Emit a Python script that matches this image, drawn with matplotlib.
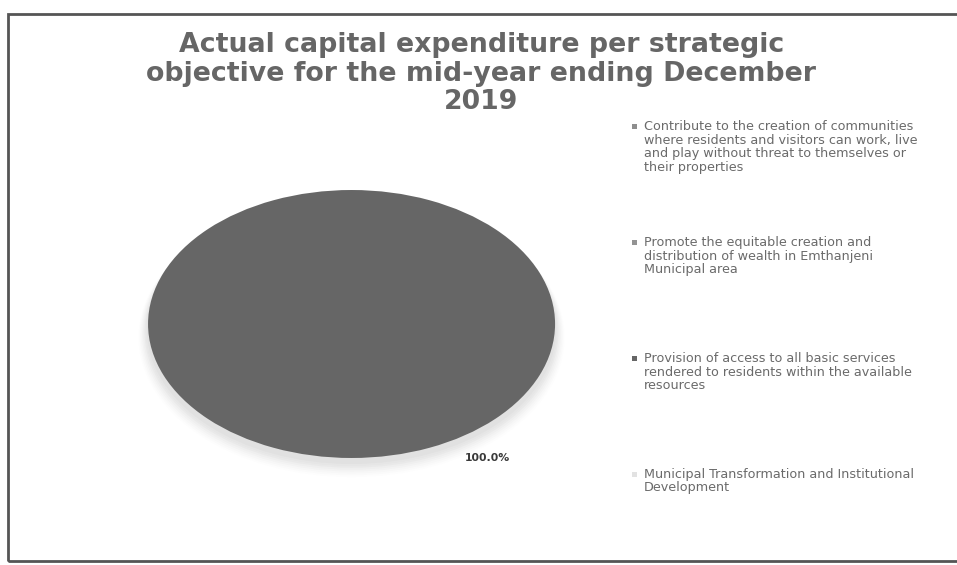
import matplotlib
matplotlib.use("Agg")
from matplotlib import pyplot as plt
from matplotlib.patches import Ellipse, Rectangle
import numpy as np

plt.rcParams['font.family'] = ['DejaVu Sans']

title = "Actual capital expenditure per strategic\nobjective for the mid-year ending December\n2019"

objectives = [
    "Contribute to the creation of communities\nwhere residents and visitors can work, live\nand play without threat to themselves or\ntheir properties",
    "Promote the equitable creation and\ndistribution of wealth in Emthanjeni\nMunicipal area",
    "Provision of access to all basic services\nrendered to residents within the available\nresources",
    "Municipal Transformation and Institutional\nDevelopment",
]
expenditure_pct = [0.0, 0.0, 100.0, 0.0]
colours = ['#8e8e8e', '#939393', '#666666', '#e2e2e2']

fig = plt.figure(figsize=(9.57, 5.65), dpi=100)
fig.patch.set_facecolor('white')

# outer chart frame
fig.patches.append(Rectangle((0.008, 0.007), 1.2, 0.968, transform=fig.transFigure,
                             fill=False, edgecolor='#555555', linewidth=2.0, zorder=0))

fig.text(0.503, 0.943, title, ha='center', va='top', fontsize=19.3, fontweight='bold',
         color='#666666', linespacing=1.13)

ax = fig.add_axes([0.1547, 0.1894, 0.4253, 0.4743])
# soft shadow under the pie
for k, a in enumerate(np.linspace(0.09, 0.02, 8)):
    ax.add_patch(Ellipse((0.0, -0.045 - 0.008 * k), 2.01 + 0.012 * k, 2.0 + 0.012 * k,
                         facecolor='#b4b4b4', edgecolor='none', alpha=a, zorder=0,
                         clip_on=False))
wedges, _ = ax.pie(expenditure_pct, colors=colours, startangle=90, counterclock=False,
                   wedgeprops=dict(linewidth=0))
for w in wedges:
    w.set_zorder(2)
ax.set_aspect('auto')
ax.set_xlim(-1, 1)
ax.set_ylim(-1, 1)
ax.axis('off')

total = sum(expenditure_pct)
for v in expenditure_pct:
    if v > 0:
        ax.text(0.67, -1.0, f"{v / total * 100:.1f}%", ha='center', va='center',
                fontsize=7.8, fontweight='bold', color='#3a3a3a', zorder=3)

# legend: equal pitch per entry, text wrapped
top_y = 1 - 121 / 565
pitch = 116 / 565
for i, (lab, c) in enumerate(zip(objectives, colours)):
    y = top_y - i * pitch
    fig.patches.append(Rectangle((632 / 957, y - 8 / 565), 5 / 957, 5 / 565,
                                 transform=fig.transFigure, facecolor=c, edgecolor='none'))
    fig.text(644 / 957, y + 1 / 565, lab, ha='left', va='top', fontsize=9.2, color='#6a6a6a',
             linespacing=1.05)

fig.savefig('out.png', dpi=100)
